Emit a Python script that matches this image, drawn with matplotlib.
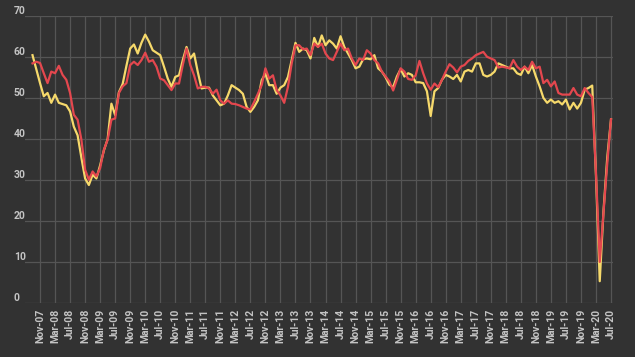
import matplotlib
matplotlib.use("Agg")
import matplotlib.pyplot as plt
import matplotlib.transforms as mtransforms
import numpy as np

# Monthly values, Sep-07 .. Jul-20
months = []
mnames = ["Jan", "Feb", "Mar", "Apr", "May", "Jun", "Jul", "Aug", "Sep", "Oct", "Nov", "Dec"]
for yr in range(2007, 2021):
    for m in range(12):
        if (yr == 2007 and m < 8) or (yr == 2020 and m > 6):
            continue
        months.append(f"{mnames[m]}-{yr % 100:02d}")

yellow = [
    60.4, 57.0, 53.6, 50.4,
    51.2, 48.8, 50.8, 48.8, 48.5, 48.2, 46.7, 43.0, 40.9, 35.5, 30.4, 28.8,
    31.3, 30.4, 33.6, 37.2, 40.0, 48.6, 45.8, 51.4, 53.4, 57.8, 62.0, 63.0,
    60.8, 63.4, 65.4, 63.7, 61.6, 61.0, 60.4, 57.6, 54.7, 52.7, 55.1, 55.5,
    59.2, 62.4, 59.6, 60.8, 56.3, 52.3, 52.5, 52.5, 50.6, 49.4, 48.2, 48.6,
    50.6, 53.1, 52.5, 51.9, 51.0, 47.8, 46.6, 47.8, 49.4, 54.3, 55.9, 53.1,
    53.1, 51.0, 52.5, 53.1, 55.1, 59.2, 63.4, 61.2, 62.0, 61.6, 59.6, 64.6,
    62.4, 65.2, 62.8, 64.0, 63.2, 62.0, 65.0, 62.4, 60.8, 59.2, 57.2, 57.6,
    59.4, 59.6, 59.4, 60.4, 57.2, 56.4, 55.0, 53.2, 52.6, 55.2, 57.0, 55.2,
    56.0, 55.6, 53.8, 53.8, 53.6, 51.6, 45.6, 51.6, 52.4, 54.4, 55.6, 55.2,
    54.6, 55.6, 54.0, 56.4, 56.8, 56.4, 58.4, 58.4, 55.6, 55.2, 55.6, 56.4,
    58.4, 58.0, 57.6, 57.2, 57.2, 56.0, 55.6, 57.6, 56.0, 58.0, 55.2, 52.8,
    50.0, 48.8, 49.6, 48.8, 49.2, 48.4, 49.6, 47.2, 48.8, 47.4, 48.8, 52.0,
    52.4, 53.0, 31.0, 5.4, 22.5, 35.5, 44.8,
]

red = [
    58.4, 58.8, 58.5, 56.0,
    53.6, 56.4, 56.0, 57.8, 55.6, 54.4, 51.2, 45.9, 44.7, 39.9, 32.5, 30.1,
    32.1, 30.9, 32.9, 37.4, 39.8, 44.7, 45.0, 51.2, 52.8, 53.6, 58.0, 58.8,
    58.0, 59.2, 61.0, 58.8, 59.2, 57.6, 54.7, 54.3, 53.1, 51.9, 53.5, 53.5,
    58.0, 62.0, 58.0, 55.5, 52.3, 52.7, 52.7, 52.3, 51.0, 52.0, 49.4, 48.6,
    49.4, 48.6, 48.5, 48.2, 47.8, 47.4, 47.2, 49.0, 51.0, 53.1, 57.2, 54.7,
    55.5, 51.9, 50.6, 48.8, 52.7, 58.4, 62.8, 62.8, 61.8, 62.0, 60.4, 63.2,
    62.4, 63.2, 60.8, 59.6, 59.2, 61.2, 63.2, 61.6, 62.0, 59.6, 58.0, 59.6,
    59.2, 61.6, 60.8, 59.2, 58.4, 56.4, 55.2, 54.0, 51.8, 54.4, 57.2, 56.4,
    54.6, 54.4, 55.5, 59.0, 56.0, 53.5, 52.0, 53.5, 52.6, 54.4, 56.4, 58.2,
    57.4, 56.2, 57.6, 58.0, 59.0, 59.6, 60.4, 60.8, 61.2, 60.0, 59.6, 59.2,
    57.4, 57.6, 57.4, 57.2, 59.2, 57.6, 56.8, 57.6, 56.8, 58.8, 57.2, 57.6,
    53.6, 54.4, 52.8, 54.0, 51.2, 50.8, 50.8, 50.8, 52.4, 50.8, 50.4, 52.4,
    51.2, 50.2, 31.7, 10.1, 22.0, 34.0, 44.8,
]

y_ticks = [0, 10, 20, 30, 40, 50, 60, 70]

BG = "#323232"
GRID = "#555555"
TXT = "#c4c4c4"
YELLOW = "#f6d96b"
RED = "#e4474e"

plt.rcParams["font.family"] = ["Roboto", "DejaVu Sans"]

fig = plt.figure(figsize=(6.35, 3.57), dpi=100, facecolor=BG)
ax = fig.add_axes([25 / 635, 1 - 303.4 / 357, (612.7 - 25) / 635, (303.4 - 15.7) / 357])
ax.set_facecolor(BG)

x = np.arange(len(months))
ax.plot(x, yellow, color=YELLOW, lw=1.6, solid_joinstyle="round", zorder=3)
ax.plot(x, red, color=RED, lw=1.6, solid_joinstyle="round", zorder=4)

ax.set_xlim(-2.0, len(months) - 1 + 0.45)
ax.set_ylim(0, 70)

tick_idx = list(range(2, len(months), 4))
ax.set_xticks(tick_idx)
ax.set_xticklabels([months[i] for i in tick_idx], rotation=90, color=TXT,
                   fontsize=7.5, fontweight="bold")
ax.tick_params(axis="x", length=0, pad=4)

ax.set_yticks(y_ticks)
ax.set_yticklabels([])
ax.tick_params(axis="y", length=0)

ax.grid(True, color=GRID, lw=0.9)
ax.set_axisbelow(True)
for s in ax.spines.values():
    s.set_visible(False)

trans = mtransforms.blended_transform_factory(fig.transFigure, ax.transData)
for v in y_ticks:
    ax.text(14 / 635, v, str(v), transform=trans, ha="left", va="bottom",
            color=TXT, fontsize=7.5, fontweight="bold")

fig.savefig("out.png", dpi=100, facecolor=BG)
